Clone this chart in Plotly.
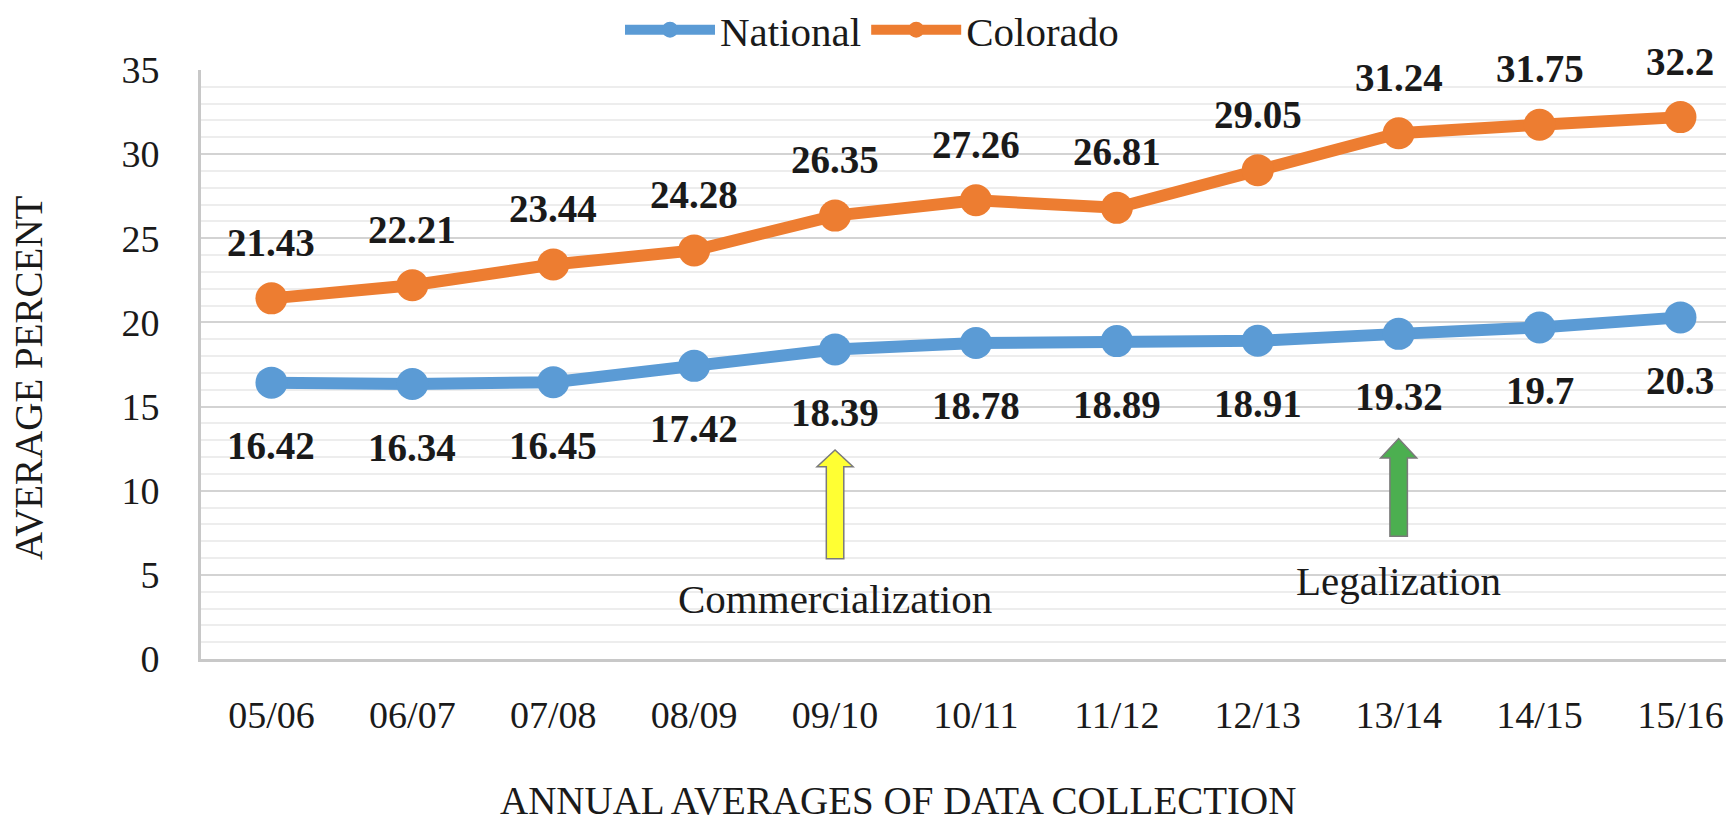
import plotly.graph_objects as go

years = ["05/06", "06/07", "07/08", "08/09", "09/10", "10/11", "11/12", "12/13", "13/14", "14/15", "15/16"]
national = [16.42, 16.34, 16.45, 17.42, 18.39, 18.78, 18.89, 18.91, 19.32, 19.7, 20.3]
colorado = [21.43, 22.21, 23.44, 24.28, 26.35, 27.26, 26.81, 29.05, 31.24, 31.75, 32.2]

events = ["Commercialization", "Legalization"]
event_years = ["09/10", "13/14"]
event_colors = ["#FFFF33", "#4CAF50"]

FONT = "Liberation Serif"
BLUE = "#5B9BD5"
ORANGE = "#ED7D31"
TXT = "#1a1a1a"

OFF = 8  # default page body margin
W, H = 1734 - OFF, 828 - OFF
ML, MR, MT, MB = 201 - OFF, 0, 70 - OFF, 169
PW, PH = W - ML - MR, H - MT - MB

def px_to_paper_x(px):
    return (px - OFF - ML) / PW

def px_to_paper_y(py):
    return (H - MB - (py - OFF)) / PH

fig = go.Figure()
fig.add_trace(go.Scatter(x=years, y=national, name="National", mode="lines+markers",
                         line=dict(color=BLUE, width=12), marker=dict(size=32, color=BLUE)))
fig.add_trace(go.Scatter(x=years, y=colorado, name="Colorado", mode="lines+markers",
                         line=dict(color=ORANGE, width=12), marker=dict(size=32, color=ORANGE)))

annotations = []
for x, v in zip(years, colorado):
    annotations.append(dict(x=x, y=v, text=f"{v:g}", showarrow=False, yshift=56,
                            font=dict(family=FONT, size=39, color=TXT, weight="bold")))
for x, v in zip(years, national):
    annotations.append(dict(x=x, y=v, text=f"{v:g}", showarrow=False, yshift=-63,
                            font=dict(family=FONT, size=39, color=TXT, weight="bold")))

# block arrows + event labels
shapes = []
label_y = [3.55, 4.65]
tip_y = [12.42, 13.1]
base_y = [5.95, 7.3]
head_len = [1.0, 1.15]
for i, (ev, yr, col) in enumerate(zip(events, event_years, event_colors)):
    cx = years.index(yr)
    hw, sw = 0.128, 0.062
    t, b, h = tip_y[i], base_y[i], tip_y[i] - head_len[i]
    path = (f"M {cx - sw},{b} L {cx - sw},{h} L {cx - hw},{h} L {cx},{t} "
            f"L {cx + hw},{h} L {cx + sw},{h} L {cx + sw},{b} Z")
    shapes.append(dict(type="path", xref="x", yref="y", path=path, fillcolor=col,
                       line=dict(color="#7a7a7a", width=1.5), layer="above"))
    annotations.append(dict(x=yr, y=label_y[i], text=ev, showarrow=False,
                            font=dict(family=FONT, size=41, color=TXT)))

# axis titles
annotations.append(dict(xref="paper", yref="paper", x=px_to_paper_x(898), y=px_to_paper_y(800),
                        xanchor="center", yanchor="middle",
                        text="ANNUAL AVERAGES OF DATA COLLECTION", showarrow=False,
                        font=dict(family=FONT, size=39, color=TXT)))
annotations.append(dict(xref="paper", yref="paper", x=px_to_paper_x(28), y=px_to_paper_y(378),
                        xanchor="center", yanchor="middle",
                        text="AVERAGE PERCENT", showarrow=False, textangle=-90,
                        font=dict(family=FONT, size=39, color=TXT)))

fig.update_layout(
    width=W, height=H,
    margin=dict(l=ML, r=MR, t=MT, b=MB, autoexpand=False),
    paper_bgcolor="white", plot_bgcolor="white",
    font=dict(family=FONT, color=TXT),
    showlegend=True,
    legend=dict(orientation="h", xref="container", yref="container",
                x=(620 - OFF) / W, y=1 - (30 - OFF) / H, xanchor="left", yanchor="middle",
                font=dict(family=FONT, size=41, color=TXT), itemwidth=90,
                bgcolor="rgba(0,0,0,0)", tracegroupgap=0),
    xaxis=dict(type="category", range=[-0.5, 10.38], showgrid=False,
               showline=True, linecolor="#C8C8C8", linewidth=3,
               ticks="", ticklabelstandoff=20, automargin=False,
               tickfont=dict(family=FONT, size=38, color=TXT), fixedrange=True),
    yaxis=dict(range=[0, 35], dtick=5, tick0=0, showgrid=True, gridcolor="#D3D3D3", gridwidth=2,
               minor=dict(dtick=1, showgrid=True, gridcolor="#EDEDED", gridwidth=2),
               showline=True, linecolor="#C8C8C8", linewidth=3, zeroline=False,
               ticks="", ticklabelstandoff=31, automargin=False,
               tickfont=dict(family=FONT, size=38, color=TXT)),
    annotations=annotations,
    shapes=shapes,
)

fig.write_html("out.html")
